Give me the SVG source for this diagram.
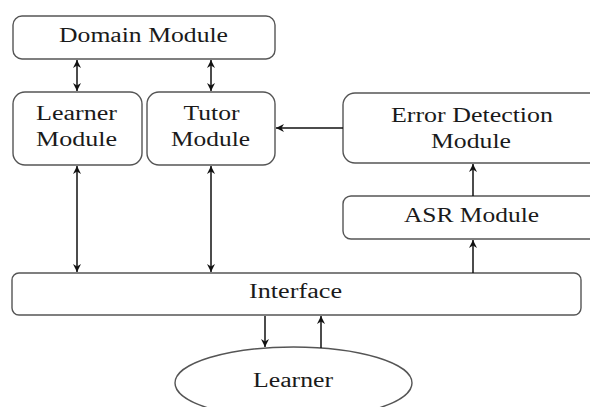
<svg xmlns="http://www.w3.org/2000/svg" width="590" height="407" viewBox="0 0 590 407">
<defs>
<marker id="ah" markerWidth="10" markerHeight="10" refX="8" refY="4.5" orient="auto-start-reverse" markerUnits="userSpaceOnUse">
<path d="M0,0.5 L8,4.5 L0,8.5 L2.5,4.5 Z" fill="#111"/>
</marker>
<style>
.box{fill:#fff;stroke:#555;stroke-width:1.4}
.t{font-family:"Liberation Serif","Times New Roman",serif;font-size:20px;fill:#1a1a1a;text-anchor:middle}
.c{stroke:#111;stroke-width:1.5;fill:none}
</style>
</defs>
<rect width="590" height="407" fill="#fff"/>
<g id="domain">
<rect class="box" x="13" y="16" width="262" height="43" rx="9"/>
<text class="t" x="143.5" y="42" textLength="169" lengthAdjust="spacingAndGlyphs">Domain Module</text>
</g>
<g id="learner-module">
<rect class="box" x="13" y="92" width="129" height="73" rx="12"/>
<text class="t" x="76.5" y="120" textLength="81" lengthAdjust="spacingAndGlyphs">Learner</text>
<text class="t" x="76.5" y="146" textLength="81" lengthAdjust="spacingAndGlyphs">Module</text>
</g>
<g id="tutor-module">
<rect class="box" x="147" y="92" width="128" height="73" rx="12"/>
<text class="t" x="211.5" y="120" textLength="56" lengthAdjust="spacingAndGlyphs">Tutor</text>
<text class="t" x="210.5" y="146" textLength="79" lengthAdjust="spacingAndGlyphs">Module</text>
</g>
<g id="error-detection">
<rect class="box" x="343" y="93" width="258" height="70" rx="12"/>
<text class="t" x="472" y="122" textLength="162" lengthAdjust="spacingAndGlyphs">Error Detection</text>
<text class="t" x="471" y="148" textLength="80" lengthAdjust="spacingAndGlyphs">Module</text>
</g>
<g id="asr">
<rect class="box" x="343" y="196" width="258" height="43" rx="8"/>
<text class="t" x="471.5" y="222" textLength="135" lengthAdjust="spacingAndGlyphs">ASR Module</text>
</g>
<g id="interface">
<rect class="box" x="12" y="273" width="569" height="42" rx="7"/>
<text class="t" x="295.5" y="298" textLength="93" lengthAdjust="spacingAndGlyphs">Interface</text>
</g>
<g id="learner">
<ellipse class="box" cx="293.5" cy="383" rx="118.5" ry="36"/>
<text class="t" x="293" y="387" textLength="80" lengthAdjust="spacingAndGlyphs">Learner</text>
</g>
<g id="connectors">
<line class="c" x1="77" y1="60" x2="77" y2="91" marker-start="url(#ah)" marker-end="url(#ah)"/>
<line class="c" x1="211" y1="60" x2="211" y2="91" marker-start="url(#ah)" marker-end="url(#ah)"/>
<line class="c" x1="77" y1="166" x2="77" y2="272" marker-start="url(#ah)" marker-end="url(#ah)"/>
<line class="c" x1="211" y1="166" x2="211" y2="272" marker-start="url(#ah)" marker-end="url(#ah)"/>
<line class="c" x1="343" y1="128" x2="276" y2="128" marker-end="url(#ah)"/>
<line class="c" x1="473" y1="196" x2="473" y2="164" marker-end="url(#ah)"/>
<line class="c" x1="473" y1="273" x2="473" y2="240" marker-end="url(#ah)"/>
<line class="c" x1="265" y1="316" x2="265" y2="347" marker-end="url(#ah)"/>
<line class="c" x1="321" y1="348" x2="321" y2="316" marker-end="url(#ah)"/>
</g>
</svg>
